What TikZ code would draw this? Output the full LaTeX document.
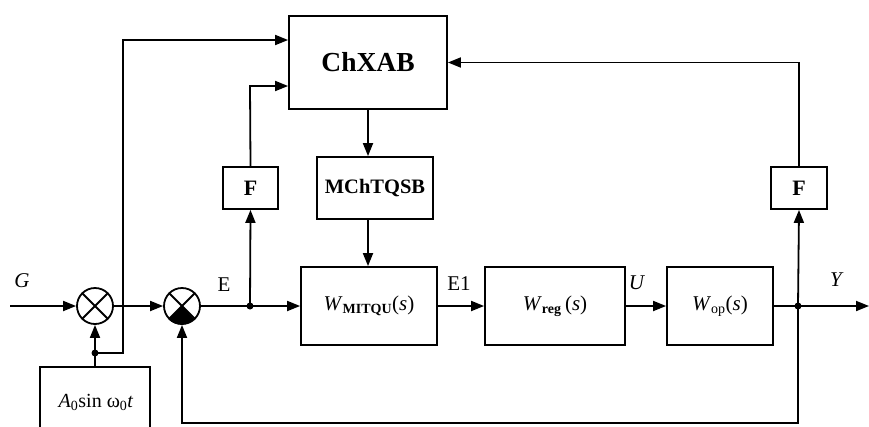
\documentclass[tikz,border=0pt]{standalone}
\usepackage{fontspec}
\setmainfont{Liberation Serif}
\usetikzlibrary{arrows.meta}
\tikzset{
  ln/.style={line width=1.8pt},
  arr/.style={ln,-{Triangle[length=13pt,width=10pt]}},
  blk/.style={draw,line width=1.8pt,inner sep=0pt,fill=white},
  sumj/.style={draw,circle,line width=1.8pt,minimum size=36pt,inner sep=0pt},
  dot/.style={circle,fill,inner sep=0pt,minimum size=7pt},
  lbl/.style={font=\fontsize{21}{23}\selectfont}
}
\newcommand{\subsm}[1]{\textsubscript{\fontsize{14}{15}\selectfont #1}}
\begin{document}
\begin{tikzpicture}[x=1pt,y=-1pt]
\useasboundingbox (0,0) rectangle (869,426);
\clip (0,0) rectangle (869,426);
% blocks
\node[blk,minimum width=158pt,minimum height=93pt,font=\fontsize{27.5}{30}\selectfont\bfseries] (chx) at (368,62.5) {ChXAB};
\node[blk,minimum width=116pt,minimum height=62pt,font=\fontsize{20.5}{22}\selectfont\bfseries] (mch) at (375,188) {MChTQSB};
\node[blk,minimum width=136pt,minimum height=78pt,font=\fontsize{21}{23}\selectfont] (wm) at (369,306) {\textit{W}\subsm{\bfseries MITQU}(\textit{s})};
\node[blk,minimum width=140pt,minimum height=78pt,font=\fontsize{21}{23}\selectfont] (wr) at (555,306) {\textit{W}\subsm{\bfseries reg}\,(\textit{s})};
\node[blk,minimum width=106pt,minimum height=78pt,font=\fontsize{21}{23}\selectfont] (wo) at (720,306) {\textit{W}\subsm{op}(\textit{s})};
\node[blk,minimum width=55pt,minimum height=42pt,font=\fontsize{22}{24}\selectfont\bfseries] (f1) at (250.5,188) {F};
\node[blk,minimum width=56pt,minimum height=42pt,font=\fontsize{22}{24}\selectfont\bfseries] (f2) at (799,188) {F};
\node[blk,minimum width=110pt,minimum height=76pt] (gen) at (95,405) {};
\node[font=\fontsize{20}{22}\selectfont] (gent) at (96,402) {\textit{A}\textsubscript{0}sin ω\textsubscript{0}\textit{t}};
% summing junctions
\node[sumj] (s1) at (95,306) {};
\node[sumj] (s2) at (182,306) {};
\foreach \s in {s1,s2}{
  \draw[ln] (\s.north east) -- (\s.south west);
  \draw[ln] (\s.north west) -- (\s.south east);
}
\fill (s2.center) -- (s2.south west) arc[start angle=225,end angle=315,radius=18pt] -- cycle;
% coordinates
\coordinate (in) at (10,306);
\coordinate (d1) at (95,353);
\coordinate (t1) at (123,40);
\coordinate (d2) at (250,306);
\coordinate (t2) at (250,86);
\coordinate (d3) at (798,306);
\coordinate (bt) at (798,423);
\coordinate (out) at (869,306);
% connectors
\draw[arr] (in) -- (s1.west);
\draw[arr] (s1.east) -- (s2.west);
\draw[arr] (gen.north) -- (s1.south);
\draw[arr] (d1) -| (t1) -- (chx.west |- t1);
\draw[arr] (s2.east) -- (wm.west);
\draw[arr] (d2) -- (f1.south);
\draw[arr] (f1.north) -- (t2) -- (chx.west |- t2);
\draw[arr] (chx.south) -- (chx.south |- mch.north);
\draw[arr] (chx.south |- mch.south) -- (chx.south |- wm.north);
\draw[arr] (wm.east) -- (wr.west);
\draw[arr] (wr.east) -- (wo.west);
\draw[arr] (wo.east) -- (out);
\draw[arr] (d3) -- (f2.south);
\draw[arr] (f2.north) |- (chx.east);
\draw[arr] (d3) -- (bt) -| (s2.south);
\node[dot] at (d1) {};
\node[dot] at (d2) {};
\node[dot] at (d3) {};
% labels
\node[lbl] (lg) at (22,281) {\textit{G}};
\node[lbl] (le) at (224,285) {E};
\node[lbl] (le1) at (459,284) {E1};
\node[lbl] (lu) at (637,283) {\textit{U}};
\node[lbl] (ly) at (837,280) {\textit{Y}};
\end{tikzpicture}
\end{document}
